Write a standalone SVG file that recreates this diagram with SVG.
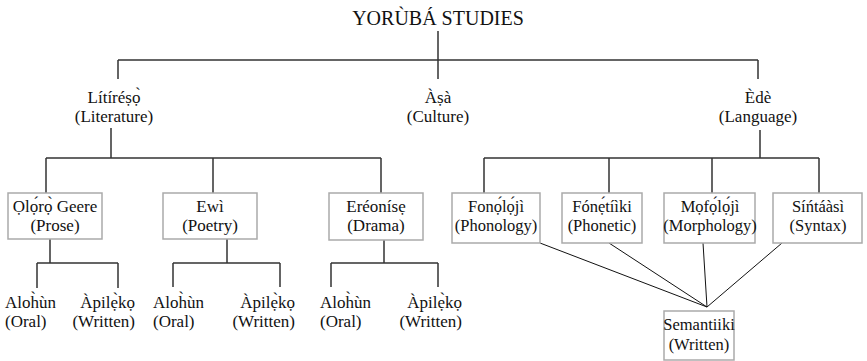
<svg xmlns="http://www.w3.org/2000/svg" width="867" height="361" viewBox="0 0 867 361" font-family="Liberation Serif, Times New Roman, Tinos, Noto Serif, DejaVu Serif, serif">
<style>
text{fill:#111;font-size:17px}
.t{font-size:20px}
.c{text-anchor:middle}
.e{text-anchor:end}
.b{font-size:16.5px}
.box{fill:#fff;stroke:#aaa;stroke-width:1.5}
.ln{fill:none;stroke:#333;stroke-width:1.5}
.dl{fill:none;stroke:#111;stroke-width:1}
</style>
<g id="connectors">
<path class="ln" d="M438 31V60M118 60H758M118 60V79M438 60V79M758 60V79"/>
<path class="ln" d="M111 128V158M46 158H381M46 158V193M213 158V193M381 158V193"/>
<path class="ln" d="M760 130V158M484 158H819M484 158V193M609 158V193M712 158V193M819 158V193"/>
<path class="ln" d="M50 239V263M37 263H118M37 263V288M118 263V288"/>
<path class="ln" d="M227 239V263M173 263H280M173 263V287M280 263V287"/>
<path class="ln" d="M384 240V263M331 263H438M331 263V287M438 263V287"/>
<path class="dl" d="M540 243L707 307M609 243L707 307M703 243L707 307M782 243L707 307"/>
</g>
<g id="root"><text class="t c" x="438" y="25">YORÙBÁ STUDIES</text></g>
<g id="litireso"><text class="c" x="114" y="103">Lítíréṣọ̀</text><text class="c" x="114" y="122">(Literature)</text></g>
<g id="asa"><text class="c" x="438" y="103">Àṣà</text><text class="c" x="438" y="122">(Culture)</text></g>
<g id="ede"><text class="c" x="758" y="103">Èdè</text><text class="c" x="758" y="122">(Language)</text></g>
<g id="oloro"><rect class="box" x="8" y="193" width="94" height="46"/><text class="c" x="55" y="212">Ọlọ́rọ̀ Geere</text><text class="c" x="55" y="231">(Prose)</text></g>
<g id="ewi"><rect class="box" x="163" y="193" width="94" height="46"/><text class="c" x="210" y="212">Ewì</text><text class="c" x="210" y="231">(Poetry)</text></g>
<g id="ereonise"><rect class="box" x="329" y="193" width="94" height="47"/><text class="c" x="376" y="212">Eréonísẹ</text><text class="c" x="376" y="231">(Drama)</text></g>
<g id="oral1"><text x="5" y="308">Aloh̀ùn</text><text x="5" y="327">(Oral)</text></g>
<g id="written1"><text class="e" x="135" y="308">Àpilẹ̀kọ</text><text class="e" x="135" y="327">(Written)</text></g>
<g id="oral2"><text x="153" y="308">Aloh̀ùn</text><text x="153" y="327">(Oral)</text></g>
<g id="written2"><text class="e" x="295" y="308">Àpilẹ̀kọ</text><text class="e" x="295" y="327">(Written)</text></g>
<g id="oral3"><text x="320" y="308">Aloh̀ùn</text><text x="320" y="327">(Oral)</text></g>
<g id="written3"><text class="e" x="462" y="308">Àpilẹ̀kọ</text><text class="e" x="462" y="327">(Written)</text></g>
<g id="fonoloji"><rect class="box" x="452" y="193" width="88" height="50"/><text class="b c" x="496" y="212">Fonọ́lọ́jì</text><text class="b c" x="496" y="231">(Phonology)</text></g>
<g id="fonetiiki"><rect class="box" x="562" y="193" width="80" height="50"/><text class="b c" x="602" y="212">Fónẹ́tíìki</text><text class="b c" x="602" y="231">(Phonetic)</text></g>
<g id="mofoloji"><rect class="box" x="664" y="193" width="91" height="50"/><text class="b c" x="710" y="212">Mọfọ́lọ́jì</text><text class="b c" x="710" y="231">(Morphology)</text></g>
<g id="sintaasi"><rect class="box" x="773" y="193" width="89" height="50"/><text class="b c" x="818" y="212">Síńtáàsì</text><text class="b c" x="818" y="231">(Syntax)</text></g>
<g id="semantiiki"><rect class="box" x="664" y="311" width="70" height="49"/><text class="b c" x="699" y="330">Semantiiki</text><text class="b c" x="699" y="350">(Written)</text></g>
</svg>
